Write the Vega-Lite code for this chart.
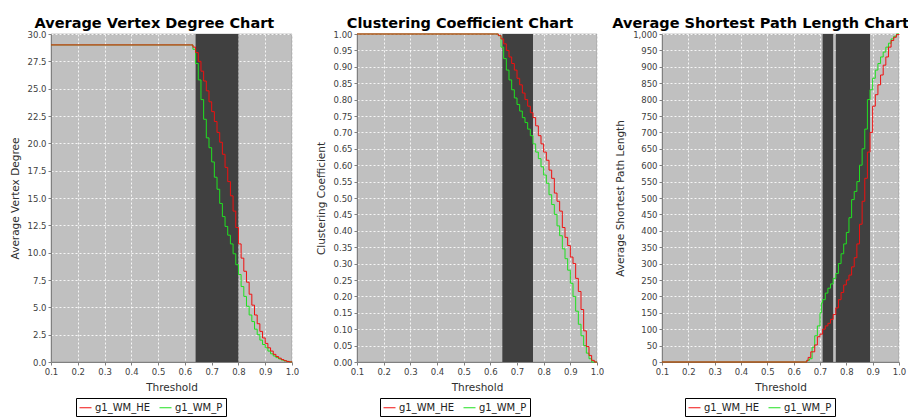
{
  "$schema": "https://vega.github.io/schema/vega-lite/v6.json",
  "background": "white",
  "padding": {"left": 9, "top": 15, "right": 0, "bottom": 0},
  "bounds": "flush",
  "spacing": 65,
  "config": {
    "font": "DejaVu Sans",
    "view": {"fill": "#c0c0c0", "stroke": "#8a8a8a", "strokeWidth": 0.5},
    "axis": {
      "labelFont": "DejaVu Sans", "labelFontSize": 8.5, "labelColor": "#404040",
      "titleFont": "DejaVu Sans", "titleFontSize": 10.5, "titleFontWeight": "normal", "titleColor": "#303030",
      "tickColor": "#808080", "tickSize": 3, "domainColor": "#808080",
      "gridColor": "white", "gridDash": [2, 2], "gridOpacity": 0.85,
      "labelPadding": 2, "labelFlush": false, "labelOverlap": false, "titlePadding": 7
    },
    "axisX": {"labelOverlap": false, "labelSeparation": 0},
    "title": {"font": "DejaVu Sans", "fontSize": 14.5, "fontWeight": "bold", "color": "black", "anchor": "middle", "frame": "bounds", "offset": -1},
    "legend": {
      "direction": "horizontal", "strokeColor": "black", "padding": 3,
      "symbolType": "stroke", "symbolSize": 144, "symbolStrokeWidth": 1,
      "labelFont": "DejaVu Sans", "labelFontSize": 10, "labelColor": "#222222",
      "columnPadding": 6, "labelOffset": 3, "cornerRadius": 0
    }
  },
  "resolve": {"scale": {"color": "independent"}, "legend": {"color": "independent"}},
  "datasets": {
    "bands1": [{"a": 0.64, "b": 0.80}],
    "bands2": [{"a": 0.645, "b": 0.76}],
    "bands3": [{"a": 0.71, "b": 0.75}, {"a": 0.76, "b": 0.89}],
    "vd": [
      {"s": "g1_WM_P", "t": 0.10, "v": 29.0}, {"s": "g1_WM_P", "t": 0.62, "v": 29.0}, {"s": "g1_WM_P", "t": 0.63, "v": 28.6},
      {"s": "g1_WM_P", "t": 0.64, "v": 27.3}, {"s": "g1_WM_P", "t": 0.65, "v": 25.8}, {"s": "g1_WM_P", "t": 0.66, "v": 24.0},
      {"s": "g1_WM_P", "t": 0.67, "v": 22.2}, {"s": "g1_WM_P", "t": 0.68, "v": 20.5}, {"s": "g1_WM_P", "t": 0.69, "v": 19.6},
      {"s": "g1_WM_P", "t": 0.70, "v": 18.3}, {"s": "g1_WM_P", "t": 0.71, "v": 16.9}, {"s": "g1_WM_P", "t": 0.72, "v": 15.8},
      {"s": "g1_WM_P", "t": 0.73, "v": 14.5}, {"s": "g1_WM_P", "t": 0.74, "v": 13.3}, {"s": "g1_WM_P", "t": 0.75, "v": 12.4},
      {"s": "g1_WM_P", "t": 0.76, "v": 11.6}, {"s": "g1_WM_P", "t": 0.77, "v": 10.8}, {"s": "g1_WM_P", "t": 0.78, "v": 9.9},
      {"s": "g1_WM_P", "t": 0.79, "v": 8.9}, {"s": "g1_WM_P", "t": 0.80, "v": 8.0}, {"s": "g1_WM_P", "t": 0.81, "v": 6.9},
      {"s": "g1_WM_P", "t": 0.82, "v": 6.0}, {"s": "g1_WM_P", "t": 0.83, "v": 5.1}, {"s": "g1_WM_P", "t": 0.84, "v": 4.3},
      {"s": "g1_WM_P", "t": 0.85, "v": 3.7}, {"s": "g1_WM_P", "t": 0.86, "v": 3.0}, {"s": "g1_WM_P", "t": 0.87, "v": 2.5},
      {"s": "g1_WM_P", "t": 0.88, "v": 2.0}, {"s": "g1_WM_P", "t": 0.89, "v": 1.6}, {"s": "g1_WM_P", "t": 0.90, "v": 1.3},
      {"s": "g1_WM_P", "t": 0.91, "v": 1.0}, {"s": "g1_WM_P", "t": 0.92, "v": 0.75}, {"s": "g1_WM_P", "t": 0.93, "v": 0.55},
      {"s": "g1_WM_P", "t": 0.94, "v": 0.4}, {"s": "g1_WM_P", "t": 0.95, "v": 0.28}, {"s": "g1_WM_P", "t": 0.96, "v": 0.18},
      {"s": "g1_WM_P", "t": 0.97, "v": 0.1}, {"s": "g1_WM_P", "t": 0.98, "v": 0.05}, {"s": "g1_WM_P", "t": 0.99, "v": 0.01},
      {"s": "g1_WM_P", "t": 1.00, "v": 0.0},
      {"s": "g1_WM_HE", "t": 0.10, "v": 29.0}, {"s": "g1_WM_HE", "t": 0.62, "v": 29.0}, {"s": "g1_WM_HE", "t": 0.63, "v": 28.8},
      {"s": "g1_WM_HE", "t": 0.64, "v": 28.3}, {"s": "g1_WM_HE", "t": 0.65, "v": 27.5}, {"s": "g1_WM_HE", "t": 0.66, "v": 26.6},
      {"s": "g1_WM_HE", "t": 0.67, "v": 25.7}, {"s": "g1_WM_HE", "t": 0.68, "v": 24.8}, {"s": "g1_WM_HE", "t": 0.69, "v": 23.8},
      {"s": "g1_WM_HE", "t": 0.70, "v": 22.9}, {"s": "g1_WM_HE", "t": 0.71, "v": 22.0}, {"s": "g1_WM_HE", "t": 0.72, "v": 21.0},
      {"s": "g1_WM_HE", "t": 0.73, "v": 20.1}, {"s": "g1_WM_HE", "t": 0.74, "v": 19.0}, {"s": "g1_WM_HE", "t": 0.75, "v": 17.8},
      {"s": "g1_WM_HE", "t": 0.76, "v": 16.5}, {"s": "g1_WM_HE", "t": 0.77, "v": 15.2}, {"s": "g1_WM_HE", "t": 0.78, "v": 13.8},
      {"s": "g1_WM_HE", "t": 0.79, "v": 12.3}, {"s": "g1_WM_HE", "t": 0.80, "v": 10.8}, {"s": "g1_WM_HE", "t": 0.81, "v": 9.5},
      {"s": "g1_WM_HE", "t": 0.82, "v": 8.3}, {"s": "g1_WM_HE", "t": 0.83, "v": 7.3}, {"s": "g1_WM_HE", "t": 0.84, "v": 6.2},
      {"s": "g1_WM_HE", "t": 0.85, "v": 5.2}, {"s": "g1_WM_HE", "t": 0.86, "v": 4.3}, {"s": "g1_WM_HE", "t": 0.87, "v": 3.5},
      {"s": "g1_WM_HE", "t": 0.88, "v": 2.8}, {"s": "g1_WM_HE", "t": 0.89, "v": 2.2}, {"s": "g1_WM_HE", "t": 0.90, "v": 1.7},
      {"s": "g1_WM_HE", "t": 0.91, "v": 1.3}, {"s": "g1_WM_HE", "t": 0.92, "v": 1.0}, {"s": "g1_WM_HE", "t": 0.93, "v": 0.7},
      {"s": "g1_WM_HE", "t": 0.94, "v": 0.5}, {"s": "g1_WM_HE", "t": 0.95, "v": 0.35}, {"s": "g1_WM_HE", "t": 0.96, "v": 0.22},
      {"s": "g1_WM_HE", "t": 0.97, "v": 0.12}, {"s": "g1_WM_HE", "t": 0.98, "v": 0.05}, {"s": "g1_WM_HE", "t": 0.99, "v": 0.01},
      {"s": "g1_WM_HE", "t": 1.00, "v": 0.0}
    ],
    "cc": [
      {"s": "g1_WM_P", "t": 0.10, "v": 1.0}, {"s": "g1_WM_P", "t": 0.62, "v": 1.0}, {"s": "g1_WM_P", "t": 0.63, "v": 0.995},
      {"s": "g1_WM_P", "t": 0.64, "v": 0.96}, {"s": "g1_WM_P", "t": 0.65, "v": 0.925}, {"s": "g1_WM_P", "t": 0.66, "v": 0.89},
      {"s": "g1_WM_P", "t": 0.67, "v": 0.86}, {"s": "g1_WM_P", "t": 0.68, "v": 0.83}, {"s": "g1_WM_P", "t": 0.69, "v": 0.805},
      {"s": "g1_WM_P", "t": 0.70, "v": 0.785}, {"s": "g1_WM_P", "t": 0.71, "v": 0.765}, {"s": "g1_WM_P", "t": 0.72, "v": 0.745},
      {"s": "g1_WM_P", "t": 0.73, "v": 0.73}, {"s": "g1_WM_P", "t": 0.74, "v": 0.71}, {"s": "g1_WM_P", "t": 0.75, "v": 0.69},
      {"s": "g1_WM_P", "t": 0.76, "v": 0.665}, {"s": "g1_WM_P", "t": 0.77, "v": 0.64}, {"s": "g1_WM_P", "t": 0.78, "v": 0.62},
      {"s": "g1_WM_P", "t": 0.79, "v": 0.595}, {"s": "g1_WM_P", "t": 0.80, "v": 0.57}, {"s": "g1_WM_P", "t": 0.81, "v": 0.545},
      {"s": "g1_WM_P", "t": 0.82, "v": 0.51}, {"s": "g1_WM_P", "t": 0.83, "v": 0.48}, {"s": "g1_WM_P", "t": 0.84, "v": 0.45},
      {"s": "g1_WM_P", "t": 0.85, "v": 0.415}, {"s": "g1_WM_P", "t": 0.86, "v": 0.385}, {"s": "g1_WM_P", "t": 0.87, "v": 0.345},
      {"s": "g1_WM_P", "t": 0.88, "v": 0.315}, {"s": "g1_WM_P", "t": 0.89, "v": 0.28}, {"s": "g1_WM_P", "t": 0.90, "v": 0.24},
      {"s": "g1_WM_P", "t": 0.91, "v": 0.20}, {"s": "g1_WM_P", "t": 0.92, "v": 0.155}, {"s": "g1_WM_P", "t": 0.93, "v": 0.115},
      {"s": "g1_WM_P", "t": 0.94, "v": 0.08}, {"s": "g1_WM_P", "t": 0.95, "v": 0.05}, {"s": "g1_WM_P", "t": 0.96, "v": 0.027},
      {"s": "g1_WM_P", "t": 0.97, "v": 0.01}, {"s": "g1_WM_P", "t": 0.98, "v": 0.0}, {"s": "g1_WM_P", "t": 1.00, "v": 0.0},
      {"s": "g1_WM_HE", "t": 0.10, "v": 1.0}, {"s": "g1_WM_HE", "t": 0.62, "v": 1.0}, {"s": "g1_WM_HE", "t": 0.63, "v": 0.995},
      {"s": "g1_WM_HE", "t": 0.64, "v": 0.985}, {"s": "g1_WM_HE", "t": 0.65, "v": 0.97}, {"s": "g1_WM_HE", "t": 0.66, "v": 0.95},
      {"s": "g1_WM_HE", "t": 0.67, "v": 0.93}, {"s": "g1_WM_HE", "t": 0.68, "v": 0.91}, {"s": "g1_WM_HE", "t": 0.69, "v": 0.89},
      {"s": "g1_WM_HE", "t": 0.70, "v": 0.865}, {"s": "g1_WM_HE", "t": 0.71, "v": 0.845}, {"s": "g1_WM_HE", "t": 0.72, "v": 0.82},
      {"s": "g1_WM_HE", "t": 0.73, "v": 0.80}, {"s": "g1_WM_HE", "t": 0.74, "v": 0.78}, {"s": "g1_WM_HE", "t": 0.75, "v": 0.76},
      {"s": "g1_WM_HE", "t": 0.76, "v": 0.745}, {"s": "g1_WM_HE", "t": 0.77, "v": 0.72}, {"s": "g1_WM_HE", "t": 0.78, "v": 0.69},
      {"s": "g1_WM_HE", "t": 0.79, "v": 0.665}, {"s": "g1_WM_HE", "t": 0.80, "v": 0.64}, {"s": "g1_WM_HE", "t": 0.81, "v": 0.615},
      {"s": "g1_WM_HE", "t": 0.82, "v": 0.585}, {"s": "g1_WM_HE", "t": 0.83, "v": 0.56}, {"s": "g1_WM_HE", "t": 0.84, "v": 0.515},
      {"s": "g1_WM_HE", "t": 0.85, "v": 0.49}, {"s": "g1_WM_HE", "t": 0.86, "v": 0.46}, {"s": "g1_WM_HE", "t": 0.87, "v": 0.41},
      {"s": "g1_WM_HE", "t": 0.88, "v": 0.38}, {"s": "g1_WM_HE", "t": 0.89, "v": 0.355}, {"s": "g1_WM_HE", "t": 0.90, "v": 0.32},
      {"s": "g1_WM_HE", "t": 0.91, "v": 0.30}, {"s": "g1_WM_HE", "t": 0.92, "v": 0.255}, {"s": "g1_WM_HE", "t": 0.93, "v": 0.215},
      {"s": "g1_WM_HE", "t": 0.94, "v": 0.16}, {"s": "g1_WM_HE", "t": 0.95, "v": 0.095}, {"s": "g1_WM_HE", "t": 0.96, "v": 0.047},
      {"s": "g1_WM_HE", "t": 0.97, "v": 0.02}, {"s": "g1_WM_HE", "t": 0.98, "v": 0.005}, {"s": "g1_WM_HE", "t": 0.99, "v": 0.0},
      {"s": "g1_WM_HE", "t": 1.00, "v": 0.0}
    ],
    "sp": [
      {"s": "g1_WM_P", "t": 0.10, "v": 0}, {"s": "g1_WM_P", "t": 0.64, "v": 0}, {"s": "g1_WM_P", "t": 0.65, "v": 5},
      {"s": "g1_WM_P", "t": 0.66, "v": 10}, {"s": "g1_WM_P", "t": 0.67, "v": 45}, {"s": "g1_WM_P", "t": 0.68, "v": 80},
      {"s": "g1_WM_P", "t": 0.69, "v": 110}, {"s": "g1_WM_P", "t": 0.70, "v": 150}, {"s": "g1_WM_P", "t": 0.705, "v": 180},
      {"s": "g1_WM_P", "t": 0.71, "v": 190}, {"s": "g1_WM_P", "t": 0.72, "v": 210}, {"s": "g1_WM_P", "t": 0.73, "v": 225},
      {"s": "g1_WM_P", "t": 0.74, "v": 238}, {"s": "g1_WM_P", "t": 0.75, "v": 255}, {"s": "g1_WM_P", "t": 0.76, "v": 270},
      {"s": "g1_WM_P", "t": 0.77, "v": 300}, {"s": "g1_WM_P", "t": 0.78, "v": 330}, {"s": "g1_WM_P", "t": 0.79, "v": 360},
      {"s": "g1_WM_P", "t": 0.80, "v": 395}, {"s": "g1_WM_P", "t": 0.81, "v": 440}, {"s": "g1_WM_P", "t": 0.82, "v": 495},
      {"s": "g1_WM_P", "t": 0.83, "v": 520}, {"s": "g1_WM_P", "t": 0.84, "v": 550}, {"s": "g1_WM_P", "t": 0.85, "v": 600},
      {"s": "g1_WM_P", "t": 0.86, "v": 650}, {"s": "g1_WM_P", "t": 0.87, "v": 710}, {"s": "g1_WM_P", "t": 0.88, "v": 800},
      {"s": "g1_WM_P", "t": 0.89, "v": 830}, {"s": "g1_WM_P", "t": 0.90, "v": 865}, {"s": "g1_WM_P", "t": 0.91, "v": 890},
      {"s": "g1_WM_P", "t": 0.92, "v": 910}, {"s": "g1_WM_P", "t": 0.93, "v": 930}, {"s": "g1_WM_P", "t": 0.94, "v": 945},
      {"s": "g1_WM_P", "t": 0.95, "v": 960}, {"s": "g1_WM_P", "t": 0.96, "v": 972}, {"s": "g1_WM_P", "t": 0.97, "v": 985},
      {"s": "g1_WM_P", "t": 0.98, "v": 993}, {"s": "g1_WM_P", "t": 0.99, "v": 1000}, {"s": "g1_WM_P", "t": 1.00, "v": 1000},
      {"s": "g1_WM_HE", "t": 0.10, "v": 0}, {"s": "g1_WM_HE", "t": 0.64, "v": 0}, {"s": "g1_WM_HE", "t": 0.65, "v": 5},
      {"s": "g1_WM_HE", "t": 0.655, "v": 14}, {"s": "g1_WM_HE", "t": 0.665, "v": 31}, {"s": "g1_WM_HE", "t": 0.68, "v": 52},
      {"s": "g1_WM_HE", "t": 0.69, "v": 77}, {"s": "g1_WM_HE", "t": 0.70, "v": 85}, {"s": "g1_WM_HE", "t": 0.71, "v": 100},
      {"s": "g1_WM_HE", "t": 0.72, "v": 110}, {"s": "g1_WM_HE", "t": 0.73, "v": 118}, {"s": "g1_WM_HE", "t": 0.74, "v": 130},
      {"s": "g1_WM_HE", "t": 0.75, "v": 145}, {"s": "g1_WM_HE", "t": 0.76, "v": 165}, {"s": "g1_WM_HE", "t": 0.77, "v": 190},
      {"s": "g1_WM_HE", "t": 0.78, "v": 212}, {"s": "g1_WM_HE", "t": 0.79, "v": 235}, {"s": "g1_WM_HE", "t": 0.80, "v": 250},
      {"s": "g1_WM_HE", "t": 0.81, "v": 265}, {"s": "g1_WM_HE", "t": 0.82, "v": 290}, {"s": "g1_WM_HE", "t": 0.83, "v": 318},
      {"s": "g1_WM_HE", "t": 0.84, "v": 360}, {"s": "g1_WM_HE", "t": 0.85, "v": 420}, {"s": "g1_WM_HE", "t": 0.86, "v": 490},
      {"s": "g1_WM_HE", "t": 0.87, "v": 560}, {"s": "g1_WM_HE", "t": 0.88, "v": 640}, {"s": "g1_WM_HE", "t": 0.89, "v": 700},
      {"s": "g1_WM_HE", "t": 0.90, "v": 780}, {"s": "g1_WM_HE", "t": 0.91, "v": 815}, {"s": "g1_WM_HE", "t": 0.92, "v": 845},
      {"s": "g1_WM_HE", "t": 0.93, "v": 875}, {"s": "g1_WM_HE", "t": 0.94, "v": 905}, {"s": "g1_WM_HE", "t": 0.95, "v": 930},
      {"s": "g1_WM_HE", "t": 0.96, "v": 960}, {"s": "g1_WM_HE", "t": 0.97, "v": 980}, {"s": "g1_WM_HE", "t": 0.98, "v": 990},
      {"s": "g1_WM_HE", "t": 0.99, "v": 998}, {"s": "g1_WM_HE", "t": 1.00, "v": 1000}
    ]
  },
  "hconcat": [
    {
      "title": {"text": "Average Vertex Degree Chart"},
      "width": 241, "height": 328,
      "layer": [
        {
          "data": {"name": "bands1"},
          "mark": {"type": "rect", "color": "#404040"},
          "encoding": {"x": {"field": "a", "type": "quantitative", "title": "Threshold", "axis": {"values": [0.1, 0.2, 0.3, 0.4, 0.5, 0.6, 0.7, 0.8, 0.9, 1.0], "format": ".1f", "labelOverlap": false}}, "x2": {"field": "b"}}
        },
        {
          "data": {"name": "vd"},
          "mark": {"type": "line", "interpolate": "step-after", "strokeWidth": 1},
          "encoding": {
            "x": {"field": "t", "type": "quantitative", "title": "Threshold", "scale": {"domain": [0.1, 1.0], "nice": false, "zero": false}, "axis": {"values": [0.1, 0.2, 0.3, 0.4, 0.5, 0.6, 0.7, 0.8, 0.9, 1.0], "format": ".1f", "labelOverlap": false}},
            "y": {"field": "v", "type": "quantitative", "title": "Average Vertex Degree", "scale": {"domain": [0, 30], "nice": false}, "axis": {"values": [0, 2.5, 5, 7.5, 10, 12.5, 15, 17.5, 20, 22.5, 25, 27.5, 30], "format": ".1f", "labelOverlap": false}},
            "color": {"field": "s", "type": "nominal", "scale": {"domain": ["g1_WM_HE", "g1_WM_P"], "range": ["#f01010", "#20e020"]}, "legend": {"title": null, "orient": "none", "legendX": 25, "legendY": 364}}
          }
        }
      ]
    },
    {
      "title": {"text": "Clustering Coefficient Chart"},
      "width": 240, "height": 328,
      "layer": [
        {
          "data": {"name": "bands2"},
          "mark": {"type": "rect", "color": "#404040"},
          "encoding": {"x": {"field": "a", "type": "quantitative", "title": "Threshold", "axis": {"values": [0.1, 0.2, 0.3, 0.4, 0.5, 0.6, 0.7, 0.8, 0.9, 1.0], "format": ".1f", "labelOverlap": false}}, "x2": {"field": "b"}}
        },
        {
          "data": {"name": "cc"},
          "mark": {"type": "line", "interpolate": "step-after", "strokeWidth": 1},
          "encoding": {
            "x": {"field": "t", "type": "quantitative", "title": "Threshold", "scale": {"domain": [0.1, 1.0], "nice": false, "zero": false}, "axis": {"values": [0.1, 0.2, 0.3, 0.4, 0.5, 0.6, 0.7, 0.8, 0.9, 1.0], "format": ".1f", "labelOverlap": false}},
            "y": {"field": "v", "type": "quantitative", "title": "Clustering Coefficient", "scale": {"domain": [0, 1], "nice": false}, "axis": {"values": [0, 0.05, 0.1, 0.15, 0.2, 0.25, 0.3, 0.35, 0.4, 0.45, 0.5, 0.55, 0.6, 0.65, 0.7, 0.75, 0.8, 0.85, 0.9, 0.95, 1], "format": ".2f", "labelOverlap": false}},
            "color": {"field": "s", "type": "nominal", "scale": {"domain": ["g1_WM_HE", "g1_WM_P"], "range": ["#f01010", "#20e020"]}, "legend": {"title": null, "orient": "none", "legendX": 23, "legendY": 364}}
          }
        }
      ]
    },
    {
      "title": {"text": "Average Shortest Path Length Chart"},
      "width": 237, "height": 328,
      "layer": [
        {
          "data": {"name": "bands3"},
          "mark": {"type": "rect", "color": "#404040"},
          "encoding": {"x": {"field": "a", "type": "quantitative", "title": "Threshold", "axis": {"values": [0.1, 0.2, 0.3, 0.4, 0.5, 0.6, 0.7, 0.8, 0.9, 1.0], "format": ".1f", "labelOverlap": false}}, "x2": {"field": "b"}}
        },
        {
          "data": {"name": "sp"},
          "mark": {"type": "line", "interpolate": "step-after", "strokeWidth": 1},
          "encoding": {
            "x": {"field": "t", "type": "quantitative", "title": "Threshold", "scale": {"domain": [0.1, 1.0], "nice": false, "zero": false}, "axis": {"values": [0.1, 0.2, 0.3, 0.4, 0.5, 0.6, 0.7, 0.8, 0.9, 1.0], "format": ".1f", "labelOverlap": false}},
            "y": {"field": "v", "type": "quantitative", "title": "Average Shortest Path Length", "scale": {"domain": [0, 1000], "nice": false}, "axis": {"values": [0, 50, 100, 150, 200, 250, 300, 350, 400, 450, 500, 550, 600, 650, 700, 750, 800, 850, 900, 950, 1000], "format": ",.0f", "labelOverlap": false}},
            "color": {"field": "s", "type": "nominal", "scale": {"domain": ["g1_WM_HE", "g1_WM_P"], "range": ["#f01010", "#20e020"]}, "legend": {"title": null, "orient": "none", "legendX": 23, "legendY": 364}}
          }
        }
      ]
    }
  ]
}
